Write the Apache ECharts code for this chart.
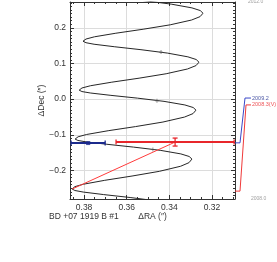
<!DOCTYPE html>
<html><head><meta charset="utf-8">
<script src="https://cdn.jsdelivr.net/npm/echarts@6/dist/echarts.min.js"></script>
<style>html,body{margin:0;padding:0;background:#fff}#c{width:277px;height:262px}</style>
</head><body><div id="c"></div>
<script>
// Model astrometric track (RA offset, Dec offset in arcsec)
const modelRA = [
 0.3312,0.3325,0.3364,0.3461,0.3584,0.3708,0.3804,0.3843,0.3856,
 0.3843,0.3803,0.3703,0.3575,0.3447,0.3347,0.3308,0.3294,
 0.3307,0.3346,0.3443,0.3568,0.3693,0.3790,0.3829,0.3842,
 0.3828,0.3788,0.3687,0.3559,0.3430,0.3329,0.3289,0.3275,
 0.3288,0.3327,0.3425,0.3549,0.3674,0.3771,0.3810,0.3823,
 0.3810,0.3770,0.3670,0.3542,0.3415,0.3315,0.3275,0.3261,
 0.3274,0.3313,0.3409,0.3533,0.3656,0.3753,0.3791,0.3805,
 0.3791,0.3751,0.3651,0.3523,0.3396,0.3296,0.3256,0.3242,
 0.3255,0.3294,0.3391,0.3514,0.3637
];
const modelDec = [
 -0.3109,-0.3033,-0.2958,-0.2853,-0.2759,-0.2677,-0.2606,-0.2563,-0.2521,
 -0.2454,-0.2386,-0.2277,-0.2157,-0.2025,-0.1882,-0.1782,-0.1681,
 -0.1608,-0.1536,-0.1435,-0.1345,-0.1266,-0.1199,-0.1159,-0.1120,
 -0.1056,-0.0991,-0.0886,-0.0770,-0.0642,-0.0503,-0.0406,-0.0308,
 -0.0235,-0.0163,-0.0062,0.0028,0.0106,0.0173,0.0213,0.0252,
 0.0313,0.0376,0.0476,0.0588,0.0712,0.0846,0.0941,0.1036,
 0.1112,0.1187,0.1292,0.1387,0.1469,0.1540,0.1583,0.1625,
 0.1686,0.1749,0.1849,0.1961,0.2085,0.2219,0.2314,0.2409,
 0.2485,0.2560,0.2665,0.2759,0.2841
];
// Yearly marks on the track
const yearMarkRA = [0.3477, 0.3458, 0.3439];
const yearMarkDec = [-0.1410, -0.0045, 0.1320];
// Observations
const obsNames = ['2009.2', '2008.3(V)'];
const obsRA = [0.3781, 0.3373];
const obsDec = [-0.1232, -0.1204];
const obsRAErr = [0.0080, 0.0277];
const obsDecErr = [0.0012, 0.0112];
const obsColors = ['#1b2a8c', '#e8262b'];
const obsLineColors = ['#3a48c8', '#f03a3a'];
const obsEpoch = [2009.14, 2008.16];
const labelEpoch = [2010.05, 2009.91];
// Offset line from model position to the red observation
const residRA = [0.3856, 0.3373];
const residDec = [-0.2521, -0.1204];
// Time scale end labels
const timeLabels = ['2008.0', '2012.0'];
const timeValues = [2008.0, 2012.0];

const FONT = 'Liberation Sans, Arial, sans-serif';
const AX = '#333';
const chart = echarts.init(document.getElementById('c'), null, {renderer: 'canvas'});

const xMin = 0.3092, xMax = 0.3866, yMin = -0.2801, yMax = 0.2725;

function mainX(pos, show) {
  return {
    type: 'value', gridIndex: 0, inverse: true, min: xMin, max: xMax, position: pos,
    axisLine: {show: true, onZero: false, lineStyle: {color: AX, width: 1}},
    axisTick: {show: true, inside: true, length: 4, lineStyle: {color: AX}},
    minorTick: {show: true, splitNumber: 4, length: 2, lineStyle: {color: AX}},
    axisLabel: {show: show, formatter: v => v.toFixed(2), showMinLabel: false, showMaxLabel: false,
      fontSize: 8.5, color: AX, margin: 4, fontFamily: FONT},
    splitLine: {show: show, lineStyle: {color: '#dcdcdc', width: 1}},
    name: show ? 'ΔRA (″)' : '', nameLocation: 'middle', nameGap: 13, nameMoveOverlap: false,
    nameTextStyle: {fontSize: 8.5, color: AX, fontFamily: FONT}
  };
}
function mainY(pos, show) {
  return {
    type: 'value', gridIndex: 0, min: yMin, max: yMax, position: pos,
    axisLine: {show: true, onZero: false, lineStyle: {color: AX, width: 1}},
    axisTick: {show: true, inside: true, length: 4, lineStyle: {color: AX}},
    minorTick: {show: true, splitNumber: 10, length: 2, lineStyle: {color: AX}},
    axisLabel: {show: show, formatter: v => (v < -1e-9 ? '−' : '') + Math.abs(v).toFixed(1),
      showMinLabel: false, showMaxLabel: false, fontSize: 8.5, color: AX, margin: 4, fontFamily: FONT},
    splitLine: {show: show, lineStyle: {color: '#dcdcdc', width: 1}},
    name: show ? 'ΔDec (″)' : '', nameLocation: 'middle', nameGap: 24, nameRotate: 90,
    nameMoveOverlap: false,
    nameTextStyle: {fontSize: 8.5, color: AX, fontFamily: FONT}
  };
}

const cross = 'path://M2,0H3V2H5V3H3V5H2V3H0V2H2Z';

const option = {
  animation: false,
  backgroundColor: '#fff',
  title: {text: 'BD +07 1919 B #1', left: 49, top: 212, padding: 0,
    textStyle: {fontSize: 8.5, fontWeight: 'normal', color: AX, fontFamily: FONT}},
  grid: [
    {left: 70, right: 42, top: 2, bottom: 63, outerBoundsMode: 'none'},
    {left: 235, right: 0, top: 2, bottom: 63, outerBoundsMode: 'none'}
  ],
  xAxis: [mainX('bottom', true), mainX('top', false),
    {type: 'value', gridIndex: 1, min: 0, max: 42, show: false}],
  yAxis: [mainY('left', true), mainY('right', false),
    {type: 'value', gridIndex: 1, min: 2008, max: 2012, show: false}],
  series: [
    {type: 'line', xAxisIndex: 0, yAxisIndex: 0, symbol: 'none', clip: true,
      data: modelRA.map((r, i) => [r, modelDec[i]]),
      lineStyle: {color: '#262626', width: 1}, z: 2},
    {type: 'scatter', xAxisIndex: 0, yAxisIndex: 0, symbol: cross, symbolSize: 4,
      data: yearMarkRA.map((r, i) => [r, yearMarkDec[i]]),
      itemStyle: {color: '#555'}, z: 3},
    {type: 'line', xAxisIndex: 0, yAxisIndex: 0, symbol: 'none',
      data: residRA.map((r, i) => [r, residDec[i]]),
      lineStyle: {color: '#ff3b3b', width: 1}, z: 4},
    {type: 'custom', xAxisIndex: 0, yAxisIndex: 0, z: 5,
      data: obsRA.map((r, i) => [r, obsDec[i], obsRAErr[i], obsDecErr[i]]),
      renderItem: function (params, api) {
        const x = api.value(0), y = api.value(1), ex = api.value(2), ey = api.value(3);
        const c = obsColors[params.dataIndex];
        const a = api.coord([x + ex, y]), b = api.coord([x - ex, y]);
        const t = api.coord([x, y + ey]), u = api.coord([x, y - ey]);
        const cap = 2.5;
        const ln = (x1, y1, x2, y2, w) => ({type: 'line', shape: {x1, y1, x2, y2}, style: {stroke: c, lineWidth: w}});
        return {type: 'group', children: [
          ln(a[0], a[1], b[0], b[1], 2),
          ln(a[0], a[1] - cap, a[0], a[1] + cap, 1.3),
          ln(b[0], b[1] - cap, b[0], b[1] + cap, 1.3),
          ln(t[0], t[1], u[0], u[1], 1.3),
          ln(t[0] - cap, t[1], t[0] + cap, t[1], 1.3),
          ln(u[0] - cap, u[1], u[0] + cap, u[1], 1.3)
        ]};
      }},
    {type: 'scatter', xAxisIndex: 0, yAxisIndex: 0, symbol: 'rect', symbolSize: 4,
      data: [[obsRA[0], obsDec[0]]], itemStyle: {color: obsColors[0]}, z: 6},
    // leader lines from the time scale to the epoch labels
    ...obsNames.map((n, i) => ({
      type: 'line', xAxisIndex: 2, yAxisIndex: 2, symbol: 'none', clip: false,
      data: [[0, obsEpoch[i]], [5, obsEpoch[i]], [10 + i, labelEpoch[i]], [16, labelEpoch[i]]],
      lineStyle: {color: obsLineColors[i], width: 1}, z: 3
    })),
    {type: 'scatter', xAxisIndex: 2, yAxisIndex: 2, symbolSize: 0, clip: false,
      data: obsNames.map((n, i) => ({name: n, value: [17, labelEpoch[i]],
        label: {color: obsColors[i]}})),
      label: {show: true, position: [0, 0], align: 'left', verticalAlign: 'middle',
        formatter: p => p.name, fontSize: 5.5, fontFamily: FONT}},
    {type: 'scatter', xAxisIndex: 2, yAxisIndex: 2, symbolSize: 0, clip: false,
      data: timeLabels.map((n, i) => ({name: n, value: [i === 0 ? 16 : 13, timeValues[i]]})),
      label: {show: true, position: [0, 0], align: 'left', verticalAlign: 'middle',
        formatter: p => p.name, fontSize: 5, color: '#888', fontFamily: FONT}}
  ]
};
chart.setOption(option);
</script></body></html>
